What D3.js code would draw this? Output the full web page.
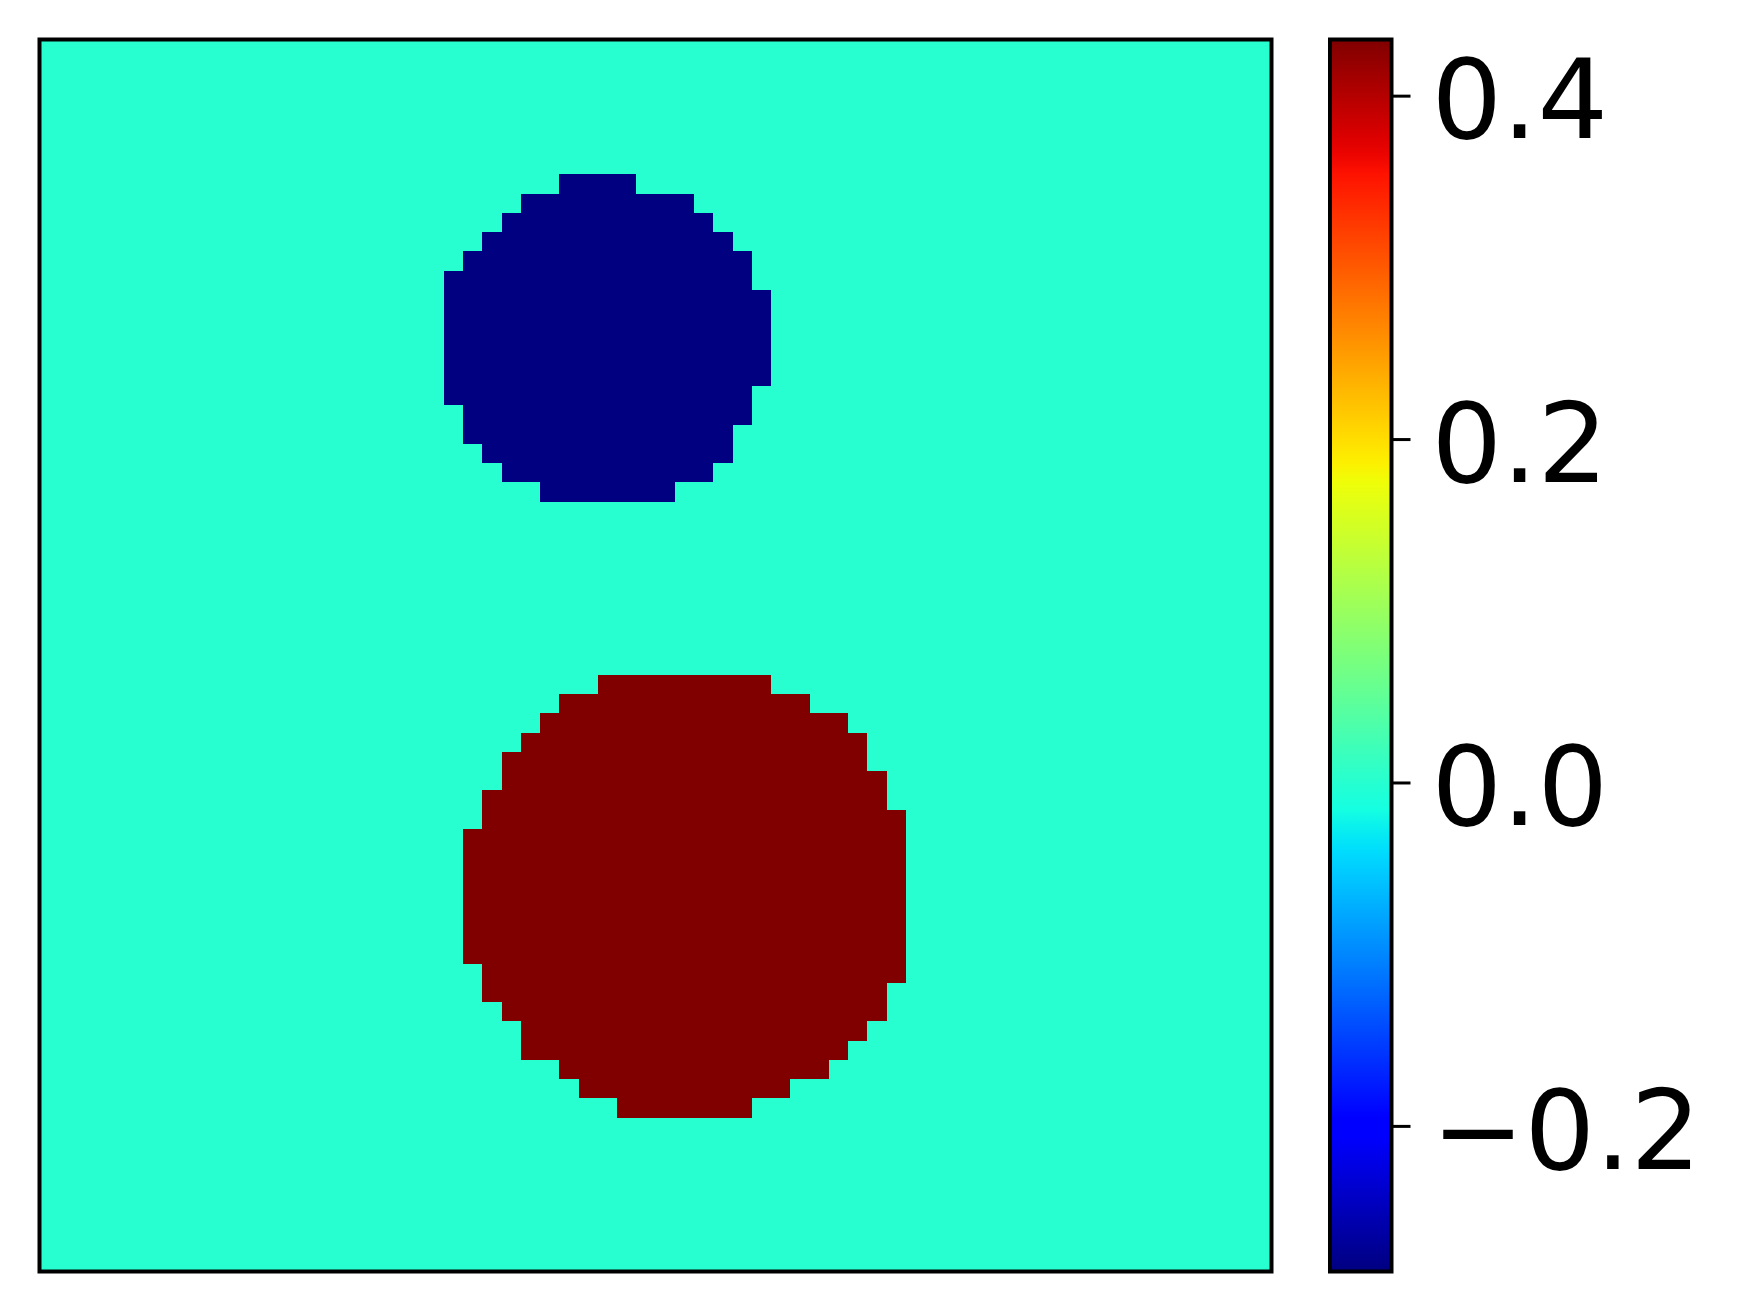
<!DOCTYPE html>
<html>
<head>
<meta charset="utf-8">
<script src="https://cdn.jsdelivr.net/npm/d3@7"></script>
<style>
  body { margin: 0; background: #fff; }
  svg { display: block; }
  text { font-family: "DejaVu Sans", sans-serif; }
</style>
</head>
<body>
<svg id="chart" width="1740" height="1312"></svg>
<script>
// grid size and colour range
const gridSize = 64;
const vmin = -0.2848;
const vmax = 0.4327;
const backgroundValue = 0.0;

// negative blob: [row, firstCol, lastCol]
const negValue = -0.2848;
const negRows = [
  [7, 27, 30], [8, 25, 33], [9, 24, 34], [10, 23, 35], [11, 22, 36], [12, 21, 36],
  [13, 21, 37], [14, 21, 37], [15, 21, 37], [16, 21, 37], [17, 21, 37],
  [18, 21, 36], [19, 22, 36], [20, 22, 35], [21, 23, 35], [22, 24, 34], [23, 26, 32]
];

// positive blob: [row, firstCol, lastCol]
const posValue = 0.4327;
const posRows = [
  [33, 29, 37], [34, 27, 39], [35, 26, 41], [36, 25, 42], [37, 24, 42], [38, 24, 43],
  [39, 23, 43], [40, 23, 44], [41, 22, 44], [42, 22, 44], [43, 22, 44], [44, 22, 44],
  [45, 22, 44], [46, 22, 44], [47, 22, 44], [48, 23, 44], [49, 23, 43], [50, 24, 43],
  [51, 25, 42], [52, 25, 41], [53, 27, 40], [54, 28, 38], [55, 30, 36]
];

// colorbar ticks
const cbarTicks = [-0.2, 0.0, 0.2, 0.4];
const cbarTickLabels = ['\u22120.2', '0.0', '0.2', '0.4'];

// matplotlib jet
const jetR = d3.scaleLinear().domain([0, 0.35, 0.66, 0.89, 1]).range([0, 0, 1, 1, 0.5]).clamp(true);
const jetG = d3.scaleLinear().domain([0, 0.125, 0.375, 0.64, 0.91, 1]).range([0, 0, 1, 1, 0, 0]).clamp(true);
const jetB = d3.scaleLinear().domain([0, 0.11, 0.34, 0.65, 1]).range([0.5, 1, 1, 0, 0]).clamp(true);
function jet(t) {
  return d3.rgb(jetR(t) * 255, jetG(t) * 255, jetB(t) * 255).formatHex();
}
const norm = d3.scaleLinear().domain([vmin, vmax]).clamp(true);
const color = v => jet(norm(v));

// build the grid
const grid = [];
for (let r = 0; r < gridSize; r++) {
  for (let c = 0; c < gridSize; c++) grid.push({ row: r, col: c, value: backgroundValue });
}
function fill(rows, value) {
  rows.forEach(([r, c0, c1]) => {
    for (let c = c0; c <= c1; c++) grid[r * gridSize + c].value = value;
  });
}
fill(negRows, negValue);
fill(posRows, posValue);

const svg = d3.select('#chart');
const plot = { left: 39.5, top: 39.5, right: 1271.5, bottom: 1271.5 };

const xScale = d3.scaleLinear().domain([0, gridSize]).range([plot.left, plot.right]);
const yScale = d3.scaleLinear().domain([0, gridSize]).range([plot.top, plot.bottom]);

svg.append('g')
  .selectAll('rect')
  .data(grid)
  .enter()
  .append('rect')
  .attr('x', d => xScale(d.col))
  .attr('y', d => yScale(d.row))
  .attr('width', xScale(1) - xScale(0) + 0.5)
  .attr('height', yScale(1) - yScale(0) + 0.5)
  .attr('fill', d => color(d.value))
  .attr('shape-rendering', 'crispEdges');

// frame
svg.append('rect')
  .attr('x', plot.left)
  .attr('y', plot.top)
  .attr('width', plot.right - plot.left)
  .attr('height', plot.bottom - plot.top)
  .attr('fill', 'none')
  .attr('stroke', '#000')
  .attr('stroke-width', 4);

// colorbar
const cbar = { left: 1330, right: 1391.5, top: 39.5, bottom: 1271.5 };
const cScale = d3.scaleLinear().domain([vmin, vmax]).range([cbar.bottom, cbar.top]);

const grad = svg.append('defs').append('linearGradient')
  .attr('id', 'jet-grad')
  .attr('x1', 0).attr('y1', 1).attr('x2', 0).attr('y2', 0);
d3.range(0, 1.0001, 1 / 64).forEach(t => {
  grad.append('stop').attr('offset', t).attr('stop-color', jet(t));
});

svg.append('rect')
  .attr('x', cbar.left)
  .attr('y', cbar.top)
  .attr('width', cbar.right - cbar.left)
  .attr('height', cbar.bottom - cbar.top)
  .attr('fill', 'url(#jet-grad)')
  .attr('stroke', '#000')
  .attr('stroke-width', 4);

const cAxis = d3.axisRight(cScale)
  .tickValues(cbarTicks)
  .tickFormat((d, i) => cbarTickLabels[i])
  .tickSizeOuter(0)
  .tickSizeInner(19)
  .tickPadding(21);

const axisG = svg.append('g')
  .attr('transform', `translate(${cbar.right},0)`)
  .call(cAxis);
axisG.select('.domain').remove();
axisG.selectAll('.tick line').attr('stroke', '#000').attr('stroke-width', 3);
axisG.selectAll('.tick text')
  .attr('fill', '#000')
  .attr('font-size', 111)
  .attr('dy', '0.38em')
  .attr('font-family', '"DejaVu Sans", sans-serif');
</script>
</body>
</html>
